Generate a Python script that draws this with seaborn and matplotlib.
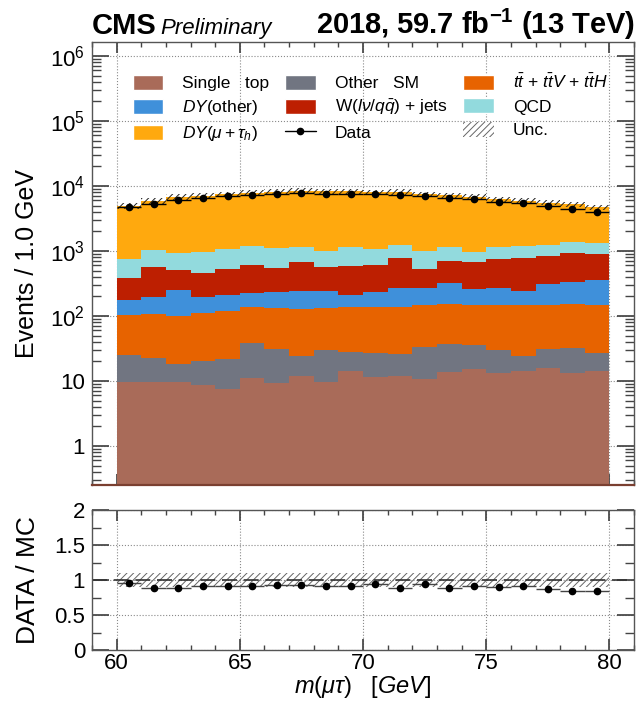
import numpy as np
import pandas as pd
import matplotlib
matplotlib.use("Agg")
import matplotlib.pyplot as plt
import seaborn as sns
from matplotlib.patches import Patch
from matplotlib.lines import Line2D
from matplotlib.ticker import FixedLocator, FixedFormatter, LogLocator, MultipleLocator, NullFormatter

# binning of m(mu tau), 1 GeV bins from 60 to 80
bin_edges = list(range(60, 81))
bin_centers = np.array(bin_edges[:-1]) + 0.5

# stacked MC contributions (events per bin), bottom to top
single_top = [9.8, 9.8, 9.8, 8.7, 7.5, 11.0, 9.4, 11.9, 9.8, 14.4,
              11.6, 12.0, 10.7, 13.9, 15.3, 13.1, 14.3, 16.0, 13.4, 14.3]
other_sm = [15.2, 12.6, 8.5, 11.6, 14.4, 27.0, 21.3, 12.6, 20.2, 13.5,
            15.1, 13.7, 23.0, 22.8, 20.5, 16.9, 10.2, 14.7, 18.5, 13.0]
ttbar = [78, 84, 83, 90, 99, 98, 100, 104, 103, 108,
         109, 110, 114, 116, 113, 116, 122, 115, 121, 119]
dy_other = [73, 92, 150, 88, 89, 87, 100, 117, 112, 74,
            101, 131, 125, 173, 111, 127, 97, 161, 184, 212]
wjets = [213, 363, 259, 256, 313, 378, 310, 440, 329, 373,
         372, 513, 261, 376, 410, 481, 528, 531, 584, 541]
qcd = [373, 475, 411, 523, 539, 593, 559, 481, 437, 583,
       453, 443, 477, 464, 307, 384, 423, 399, 472, 413]
dy_mutau = [4168, 4904, 5889, 6163, 6443, 6736, 7008, 7252, 7304, 7167,
            6958, 6951, 6481, 6064, 5821, 5112, 4740, 4331, 3829, 3416]

# observed data
data = [4693, 5233, 6000, 6526, 6897, 7248, 7532, 7854, 7600, 7583,
        7603, 7201, 7065, 6435, 6213, 5594, 5424, 4850, 4428, 4009]

unc_frac = 0.095  # total MC uncertainty (relative)

labels = {
    "single_top": "Single   top",
    "other_sm": "Other   SM",
    "ttbar": r"$t\bar{t}$ + $t\bar{t}V$ + $t\bar{t}H$",
    "dy_other": r"$DY$(other)",
    "wjets": r"W($l\nu/q\bar{q}$) + jets",
    "qcd": "QCD",
    "dy_mutau": r"$DY(\mu + \tau_h)$",
}
colors = {
    "single_top": "#a96b59",
    "other_sm": "#717581",
    "ttbar": "#e76300",
    "dy_other": "#3f90da",
    "wjets": "#bd1f01",
    "qcd": "#92dadd",
    "dy_mutau": "#ffa90e",
}
series = {
    "single_top": single_top, "other_sm": other_sm, "ttbar": ttbar,
    "dy_other": dy_other, "wjets": wjets, "qcd": qcd, "dy_mutau": dy_mutau,
}

sns.set_theme(style="ticks")
plt.rcParams["font.family"] = ["Liberation Sans", "DejaVu Sans"]
plt.rcParams["mathtext.fontset"] = "custom"
plt.rcParams["mathtext.rm"] = "Liberation Sans"
plt.rcParams["mathtext.it"] = "Liberation Sans:italic"
plt.rcParams["mathtext.bf"] = "Liberation Sans:bold"
plt.rcParams["hatch.linewidth"] = 0.7
plt.rcParams["text.color"] = "black"
plt.rcParams["axes.labelcolor"] = "black"
plt.rcParams["xtick.labelcolor"] = "black"
plt.rcParams["ytick.labelcolor"] = "black"

df = pd.concat([pd.DataFrame({"m": bin_centers, "w": np.array(v, dtype=float), "process": k})
                for k, v in series.items()], ignore_index=True)
# seaborn stacks the last hue level at the bottom
hue_order = ["dy_mutau", "qcd", "wjets", "dy_other", "ttbar", "other_sm", "single_top"]

mc_total = np.sum([np.array(v, dtype=float) for v in series.values()], axis=0)
data = np.array(data, dtype=float)
ratio = data / mc_total

fig = plt.figure(figsize=(6.37, 7.06), dpi=100)
ax = fig.add_axes([0.1444, 0.313, 0.851, 0.6275])
rax = fig.add_axes([0.1444, 0.0793, 0.851, 0.198])

ax.set_yscale("log")
sns.histplot(data=df, x="m", weights="w", hue="process", hue_order=hue_order,
             palette=colors, bins=bin_edges, multiple="stack", element="step",
             fill=True, alpha=1, linewidth=0, legend=False, ax=ax)

# MC uncertainty band
ax.bar(bin_centers, mc_total * 2 * unc_frac, bottom=mc_total * (1 - unc_frac),
       width=1.0, fill=False, hatch="/////", edgecolor="#222222", linewidth=0)
ax.errorbar(bin_centers, data, xerr=0.5, yerr=np.sqrt(data), fmt="o",
            color="black", markersize=4.5, elinewidth=1, capsize=0)

ax.set_xlim(59, 81)
ax.set_ylim(10 ** -0.6, 10 ** 6.215)
ax.set_xlabel("")
ax.set_ylabel("Events / 1.0 GeV", fontsize=18, labelpad=8)
ax.yaxis.set_major_locator(FixedLocator([1, 10, 100, 1e3, 1e4, 1e5, 1e6]))
ax.yaxis.set_major_formatter(FixedFormatter(
    ["1", "10", "$10^{2}$", "$10^{3}$", "$10^{4}$", "$10^{5}$", "$10^{6}$"]))
ax.yaxis.set_minor_locator(LogLocator(base=10, subs=np.arange(2, 10), numticks=20))
ax.yaxis.set_minor_formatter(NullFormatter())
ax.xaxis.set_major_locator(MultipleLocator(5))
ax.xaxis.set_minor_locator(MultipleLocator(1))
ax.tick_params(axis="x", labelbottom=False)

# ratio panel
rax.bar(bin_centers, 2 * unc_frac, bottom=1 - unc_frac, width=1.0, fill=False,
        hatch="/////", edgecolor="#666666", linewidth=0)
rax.axhline(1.0, color="#333333", lw=1.2, ls=(0, (9, 4)))
rax.errorbar(bin_centers, ratio, xerr=0.5, yerr=np.sqrt(data) / mc_total, fmt="o",
             color="black", ecolor="#444444", markersize=4.5, elinewidth=1, capsize=0)
rax.set_xlim(59, 81)
rax.set_ylim(0, 2)
rax.yaxis.set_major_locator(FixedLocator([0, 0.5, 1, 1.5, 2]))
rax.yaxis.set_major_formatter(FixedFormatter(["0", "0.5", "1", "1.5", "2"]))
rax.yaxis.set_minor_locator(MultipleLocator(0.25))
rax.xaxis.set_major_locator(MultipleLocator(5))
rax.xaxis.set_minor_locator(MultipleLocator(1))
rax.set_ylabel("DATA / MC", fontsize=19, labelpad=10)
rax.set_xlabel(r"$m(\mu\tau)$   $[GeV]$", fontsize=17, labelpad=0)

for a in (ax, rax):
    a.set_axisbelow(True)
    a.grid(True, which="major", ls=":", color="#8a8a8a", lw=0.8)
    a.tick_params(which="both", direction="in", top=True, right=True,
                  color="#444444", labelcolor="black", labelsize=16, pad=5)
    a.tick_params(axis="y", which="major", length=12)
    a.tick_params(axis="y", which="minor", length=6.5)
    a.tick_params(axis="x", which="major", length=8, pad=2)
    a.tick_params(axis="x", which="minor", length=3.5)
    for s in a.spines.values():
        s.set_color("#555555")
        s.set_linewidth(1.0)
ax.spines["bottom"].set_color("#7a3f30")
ax.spines["bottom"].set_linewidth(1.6)

# legend
handles = [
    Patch(facecolor=colors["single_top"], label=labels["single_top"]),
    Patch(facecolor=colors["dy_other"], label=labels["dy_other"]),
    Patch(facecolor=colors["dy_mutau"], label=labels["dy_mutau"]),
    Patch(facecolor=colors["other_sm"], label=labels["other_sm"]),
    Patch(facecolor=colors["wjets"], label=labels["wjets"]),
    Line2D([], [], color="black", marker="o", markersize=4.5, lw=1, label="Data"),
    Patch(facecolor=colors["ttbar"], label=labels["ttbar"]),
    Patch(facecolor=colors["qcd"], label=labels["qcd"]),
    Patch(facecolor="white", edgecolor="#666666", hatch="/////", lw=0, label="Unc."),
]
ax.legend(handles=handles, ncol=3, loc="upper left", bbox_to_anchor=(0.0756, 0.93),
          frameon=False, fontsize=12.5, borderpad=0, borderaxespad=0,
          handlelength=1.75, handleheight=0.95, handletextpad=1.1,
          columnspacing=0.9, labelspacing=0.4)

# header
fig.text(0.1444, 0.952, "CMS", fontsize=21, fontweight="bold", ha="left", va="baseline")
fig.text(0.252, 0.952, "Preliminary", fontsize=16, fontstyle="italic",
         ha="left", va="baseline")
fig.text(0.997, 0.952, r"2018, 59.7 fb$^{\mathbf{-1}}$ (13 TeV)", fontsize=21,
         fontweight="bold", ha="right", va="baseline")

fig.savefig("out.png", dpi=100)
